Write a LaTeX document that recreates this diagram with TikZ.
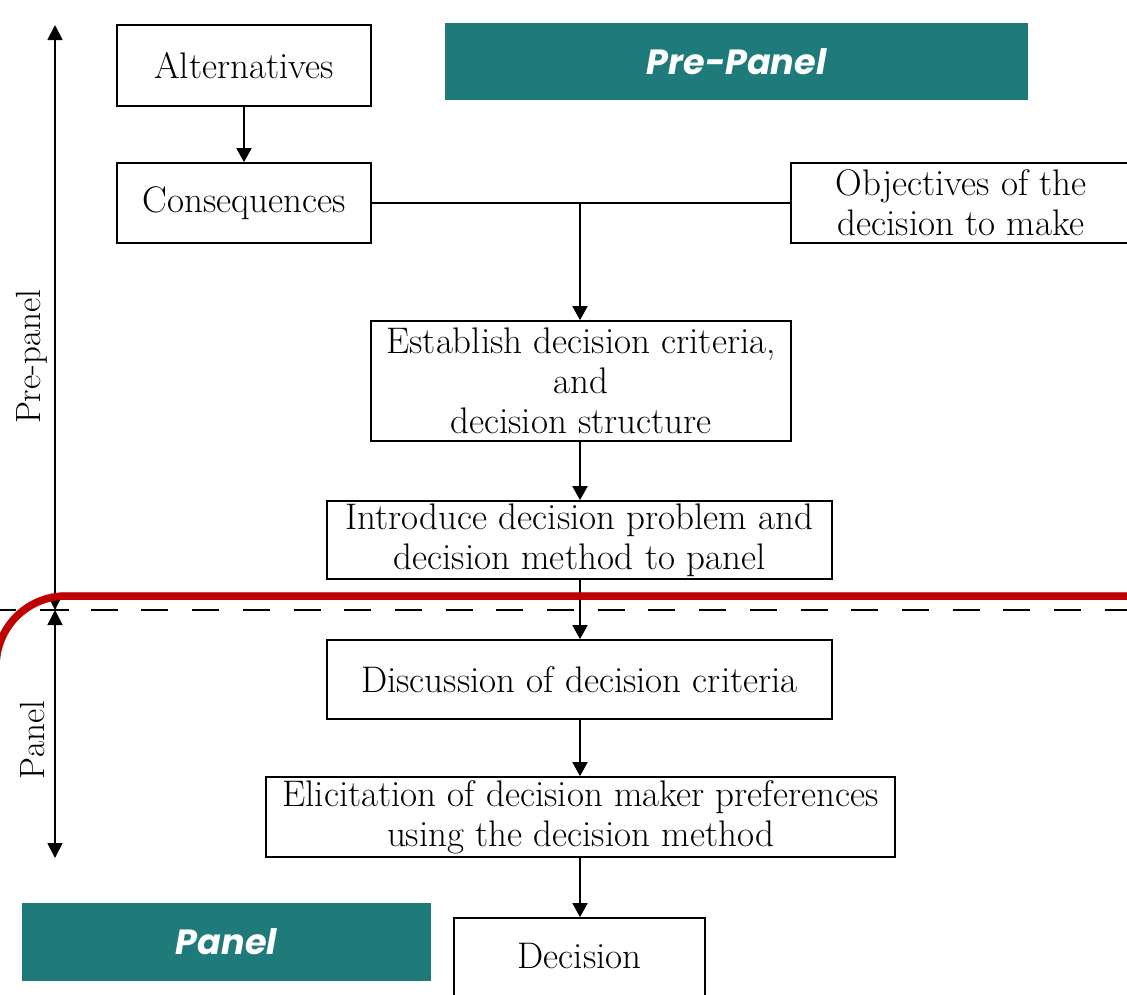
\documentclass[tikz,border=0pt]{standalone}
\usepackage{fontspec}
\newfontfamily\headfont{Poppins}
\usetikzlibrary{arrows.meta}
\definecolor{bandteal}{RGB}{31,122,122}
\definecolor{cutred}{RGB}{192,0,0}
\begin{document}
\begin{tikzpicture}[x=1pt,y=-1pt,
  box/.style={draw, line width=1.7pt, align=center, inner sep=0pt,
    font=\fontsize{37}{40}\selectfont},
  flow/.style={line width=1.8pt, -{Triangle[width=15pt,length=14pt]}},
  span/.style={line width=1.8pt, {Triangle[width=15pt,length=15pt]}-{Triangle[width=15pt,length=15pt]}},
  band/.style={fill=bandteal, text=white, inner sep=0pt,
    font=\headfont\fontsize{35}{42}\selectfont\bfseries\itshape},
  sidelabel/.style={rotate=90, font=\fontsize{35}{40}\selectfont}]
\useasboundingbox (0,0) rectangle (1127,994);

% process boxes
\node[box, minimum width=254pt, minimum height=81pt] (alt) at (244,65.5) {Alternatives};
\node[box, minimum width=254pt, minimum height=80pt] (cons) at (244,203) {Consequences};
\node[box, minimum width=340pt, minimum height=80pt] (obj) at (961,203) {Objectives of the\\decision to make};
\node[box, minimum width=420pt, minimum height=120pt] (est) at (581,381) {Establish decision criteria,\\and\\decision structure};
\node[box, minimum width=505pt, minimum height=78pt] (intro) at (579.5,540) {Introduce decision problem and\\decision method to panel};
\node[box, minimum width=505pt, minimum height=79pt] (disc) at (579.5,679.5) {Discussion of decision criteria};
\node[box, minimum width=629pt, minimum height=80pt] (elic) at (580.5,817) {Elicitation of decision maker preferences\\using the decision method};
\node[box, minimum width=251pt, minimum height=100pt] (dec) at (579.5,968) {\raisebox{0pt}[0pt][0pt]{Decision}};

% connectors: the main column runs straight down at x = 580
\coordinate (col) at (580,0);
\draw[flow] (alt) -- (cons);
\draw[line width=1.8pt] (cons.east) -- (obj.west);
\coordinate (join) at (cons.east -| col);
\draw[flow] (join) -- (est.north -| col);
\draw[flow] (est.south -| col) -- (intro.north -| col);
\draw[flow] (intro.south -| col) -- (disc.north -| col);
\draw[flow] (disc.south -| col) -- (elic.north -| col);
\draw[flow] (elic.south -| col) -- (dec.north -| col);

% phase axis on the left
\coordinate (ptop) at (55,25);
\coordinate (pcut) at (55,610);
\coordinate (pbot) at (55,858);
\draw[span] (pcut) -- (ptop);
\draw[span] (pcut) -- (pbot);
\draw[line width=1.8pt] ([xshift=-14pt]pcut) -- ([xshift=14pt]pcut);
\node[sidelabel] (lpre) at (32,357) {Pre-panel};
\node[sidelabel] (lpan) at (32,740) {Panel};

% boundary between the two phases
\coordinate (dashL) at (-10.7,610);
\coordinate (dashR) at (1127,610);
\draw[line width=1.8pt, dash pattern=on 27pt off 23.7pt] (dashL) -- (dashR);

% teal headings
\node[band, minimum width=583pt, minimum height=77pt] (hpre) at (736.5,61.5) {Pre-Panel};
\node[band, minimum width=409pt, minimum height=78pt] (hpan) at (226.5,942) {Panel};

% red cut line with a soft shadow
\coordinate (cutA) at (-4,1000);
\coordinate (cutB) at (-4,596);
\coordinate (cutC) at (1140,596);
\foreach \s/\o in {1/0.10,2.5/0.09,4/0.07,5.5/0.05,7/0.03}
  \draw[line width=7.5pt, black, opacity=\o, rounded corners=70pt, yshift=-\s pt] (cutA) -- (cutB) -- (cutC);
\draw[line width=7.5pt, cutred, rounded corners=70pt] (cutA) -- (cutB) -- (cutC);
\end{tikzpicture}
\end{document}
